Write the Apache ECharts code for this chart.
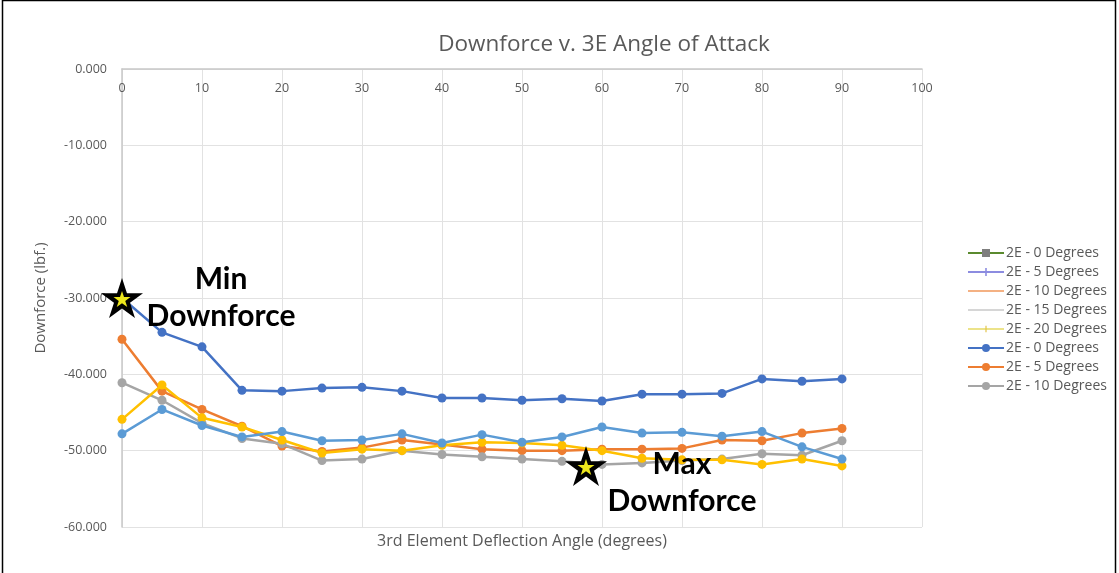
<!DOCTYPE html>
<html>
<head>
<meta charset="utf-8">
<title>Downforce v. 3E Angle of Attack</title>
<script src="https://cdn.jsdelivr.net/npm/echarts@6/dist/echarts.min.js"></script>
<style>
  html, body { margin: 0; padding: 0; background: #ffffff; }
  #chart { width: 1119px; height: 573px; }
</style>
</head>
<body>
<div id="chart"></div>
<script>
// Third-element deflection angle (degrees)
const angles = [0, 5, 10, 15, 20, 25, 30, 35, 40, 45, 50, 55, 60, 65, 70, 75, 80, 85, 90];

// Downforce (lbf.) for each second-element setting
const df2E0  = [-30.0, -34.5, -36.4, -42.1, -42.2, -41.8, -41.7, -42.2, -43.1, -43.1, -43.4, -43.2, -43.5, -42.6, -42.6, -42.5, -40.6, -40.9, -40.6];
const df2E5  = [-35.4, -42.2, -44.6, -46.8, -49.4, -50.1, -49.6, -48.6, -49.2, -49.8, -50.0, -50.0, -49.8, -49.8, -49.7, -48.6, -48.7, -47.7, -47.1];
const df2E10 = [-41.1, -43.4, -46.4, -48.4, -49.1, -51.3, -51.1, -50.0, -50.5, -50.8, -51.1, -51.4, -51.8, -51.6, -51.3, -51.1, -50.4, -50.6, -48.7];
const df2E15 = [-45.9, -41.4, -45.7, -46.9, -48.6, -50.3, -49.8, -50.0, -49.3, -48.9, -49.0, -49.3, -50.0, -51.0, -51.2, -51.2, -51.8, -51.1, -52.0];
const df2E20 = [-47.8, -44.6, -46.7, -48.2, -47.5, -48.7, -48.6, -47.8, -49.0, -47.9, -48.9, -48.2, -46.9, -47.7, -47.6, -48.1, -47.5, -49.5, -51.1];

// Legend labels
const legendLabels = [
  '2E - 0 Degrees', '2E - 5 Degrees', '2E - 10 Degrees', '2E - 15 Degrees', '2E - 20 Degrees',
  '2E - 0 Degrees', '2E - 5 Degrees', '2E - 10 Degrees'
];

// Y tick labels
const yTicks = [0, -10, -20, -30, -40, -50, -60];

// Annotated points: [angle, downforce, caption]
const minPoint = [0, -30.0, 'Min\nDownforce'];
const maxPoint = [58.0, -52.0, 'Max\nDownforce'];

const pairs = arr => angles.map((a, i) => [a, arr[i]]);

const plusPath = 'path://M4,0 L6,0 L6,4 L10,4 L10,6 L6,6 L6,10 L4,10 L4,6 L0,6 L0,4 L4,4 Z';
// narrow upright dash inside a square bounding box
const dashPath = 'path://M0,0 M10,10 M4.3,1 L5.7,1 L5.7,9 L4.3,9 Z';

// Series that appear only in the legend (no data)
const emptyStyles = [
  { color: '#5a8a2e', symbol: 'rect', symbolColor: '#7f7f7f', symbolSize: 6 },
  { color: '#8c8ce0', symbol: plusPath, symbolColor: '#8c8ce0', symbolSize: 7 },
  { color: '#f4b183', symbol: 'none', hideMarker: true },
  { color: '#d6d6d6', symbol: 'none', hideMarker: true },
  { color: '#ece38a', symbol: dashPath, symbolColor: '#e0c040', symbolSize: 8 }
];

const dataSets = [
  { arr: df2E0,  color: '#4472C4' },
  { arr: df2E5,  color: '#ED7D31' },
  { arr: df2E10, color: '#A5A5A5' },
  { arr: df2E15, color: '#FFC000', label: 'x2E - 15 Degrees' },
  { arr: df2E20, color: '#5B9BD5', label: 'x2E - 20 Degrees' }
];

const series = [];
const legendItems = [];

// Series names carry a prefix so repeated legend labels stay distinct.
emptyStyles.forEach((s, i) => {
  const name = 'a' + i + '|' + legendLabels[i];
  const item = { name: name };
  if (s.hideMarker) item.itemStyle = { opacity: 0 };
  legendItems.push(item);
  series.push({
    name: name,
    type: 'line',
    data: [],
    symbol: s.symbol,
    symbolKeepAspect: true,
    symbolSize: s.symbolSize || 6,
    lineStyle: { color: s.color, width: 2 },
    itemStyle: { color: s.symbolColor || s.color }
  });
});

dataSets.forEach((d, i) => {
  const name = i < 3 ? ('b' + i + '|' + legendLabels[5 + i]) : d.label;
  if (i < 3) legendItems.push({ name: name });
  series.push({
    name: name,
    type: 'line',
    data: pairs(d.arr),
    symbol: 'circle',
    symbolSize: 9,
    showSymbol: true,
    lineStyle: { color: d.color, width: 2.5 },
    itemStyle: { color: d.color },
    z: 3 + i
  });
});

const starPath = 'path://M50,0 L61.8,36.2 L100,36.2 L69.1,58.8 L80.9,95.1 L50,72.7 L19.1,95.1 L30.9,58.8 L0,36.2 L38.2,36.2 Z';
const annotationFont = { fontFamily: 'Lato, "Open Sans", sans-serif', fontWeight: 'bold', fontSize: 30, color: '#000', lineHeight: 37 };

// Star markers with captions
[minPoint, maxPoint].forEach((p, k) => {
  series.push({
    name: 'star' + k,
    type: 'scatter',
    data: [[p[0], p[1]]],
    symbol: starPath,
    symbolSize: [42, 40],
    itemStyle: { color: '#000', opacity: 1 },
    z: 10,
    silent: true,
    label: Object.assign({
      show: true,
      position: 'inside',
      align: 'center',
      verticalAlign: 'middle',
      offset: k === 0 ? [99, 0] : [96, 17],
      formatter: () => p[2]
    }, annotationFont)
  });
  series.push({
    name: 'starInner' + k,
    type: 'scatter',
    data: [[p[0], p[1]]],
    symbol: starPath,
    symbolSize: [17, 16],
    symbolOffset: [0, 1],
    itemStyle: { color: '#ece61c', opacity: 1 },
    z: 11,
    silent: true
  });
});

const chart = echarts.init(document.getElementById('chart'));
const baseFont = '"Open Sans", sans-serif';

chart.setOption({
  animation: false,
  backgroundColor: '#ffffff',
  title: {
    text: 'Downforce v. 3E Angle of Attack',
    left: 599,
    textAlign: 'center',
    top: 28,
    textStyle: { fontFamily: baseFont, fontSize: 22.5, fontWeight: 'normal', color: '#595959' }
  },
  legend: {
    data: legendItems,
    orient: 'vertical',
    left: 962,
    top: 241,
    itemWidth: 36,
    itemHeight: 10,
    itemGap: 5,
    formatter: n => n.split('|')[1],
    textStyle: { fontFamily: baseFont, fontSize: 14, color: '#595959', padding: [0, 0, 0, -3] },
    selectedMode: false
  },
  grid: { left: 122, right: 197, top: 69, bottom: 46, containLabel: false },
  xAxis: [{
    type: 'value',
    position: 'top',
    min: 0, max: 100, interval: 10,
    axisLine: { show: true, onZero: false, lineStyle: { color: '#c8c8c8', width: 1.5 } },
    axisTick: { show: false },
    axisLabel: { inside: true, margin: 13, color: '#595959', fontFamily: baseFont, fontSize: 12.5 },
    splitLine: { show: true, lineStyle: { color: '#e2e2e2', width: 1 } }
  }, {
    type: 'value',
    position: 'bottom',
    min: 0, max: 100,
    axisLine: { show: false },
    axisTick: { show: false },
    axisLabel: { show: false },
    splitLine: { show: false },
    name: '3rd Element Deflection Angle (degrees)',
    nameLocation: 'middle',
    nameGap: 6,
    nameTextStyle: { fontFamily: baseFont, fontSize: 16, color: '#595959', verticalAlign: 'top' }
  }],
  yAxis: {
    type: 'value',
    min: -60, max: 0, interval: 10,
    axisLine: { show: true, onZero: false, lineStyle: { color: '#c8c8c8', width: 1.5 } },
    axisTick: { show: false },
    axisLabel: {
      margin: 15,
      color: '#595959', fontFamily: baseFont, fontSize: 12.5,
      formatter: v => yTicks.includes(v) ? v.toFixed(3) : ''
    },
    splitLine: { show: true, lineStyle: { color: '#e2e2e2', width: 1 } },
    name: 'Downforce (lbf.)',
    nameLocation: 'middle',
    nameGap: 74,
    nameTextStyle: { fontFamily: baseFont, fontSize: 15, color: '#595959' }
  },
  series: series,
  graphic: [{
    type: 'rect',
    shape: { x: 2.5, y: 0.5, width: 1113, height: 600 },
    style: { fill: 'none', stroke: '#000', lineWidth: 1.5 },
    silent: true,
    z: 100
  }]
});
</script>
</body>
</html>
